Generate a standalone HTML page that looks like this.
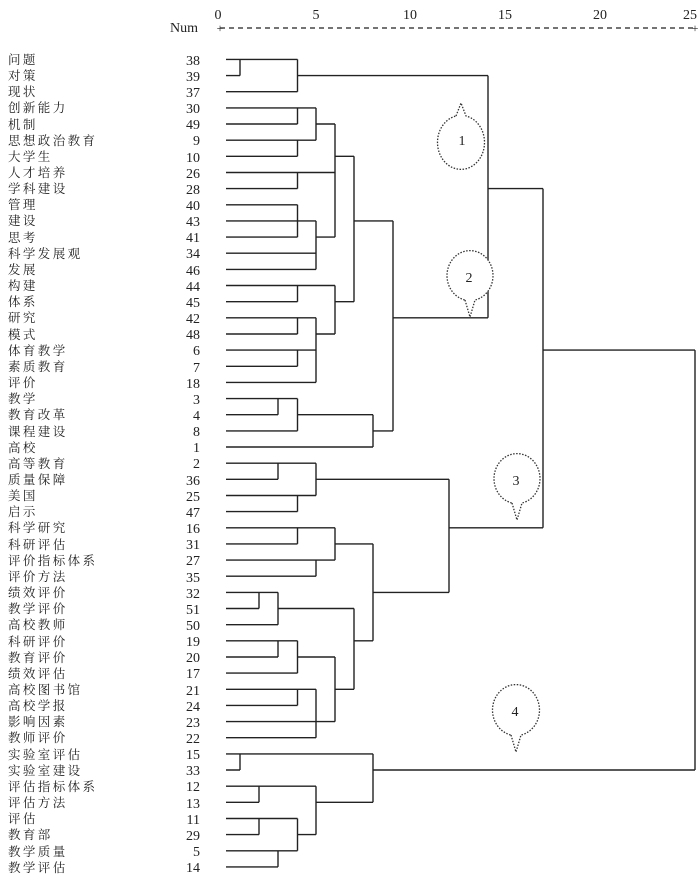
<!DOCTYPE html>
<html><head><meta charset="utf-8"><style>
html,body{margin:0;padding:0;background:#fff;}
svg{display:block;}
.lb{font-family:"Liberation Serif","Noto Serif CJK SC",serif;font-size:12.5px;letter-spacing:2.4px;fill:#222;}
.nm{font-family:"Liberation Serif",serif;font-size:14px;fill:#222;text-anchor:end;}
.ax{font-family:"Liberation Serif",serif;font-size:14px;fill:#222;text-anchor:middle;}
</style></head><body>
<svg width="700" height="877" viewBox="0 0 700 877" xmlns="http://www.w3.org/2000/svg">
<text x="218" y="19" class="ax">0</text>
<text x="316" y="19" class="ax">5</text>
<text x="410" y="19" class="ax">10</text>
<text x="505" y="19" class="ax">15</text>
<text x="600" y="19" class="ax">20</text>
<text x="690" y="19" class="ax">25</text>
<text x="198" y="32" class="nm">Num</text>
<line x1="220" y1="28" x2="695" y2="28" stroke="#222" stroke-width="1.2" stroke-dasharray="5,4"/>
<text x="220" y="32" class="ax" style="font-size:12px">+</text>
<text x="695" y="32" class="ax" style="font-size:12px">+</text>
<g id="labels">
<text x="8" y="64" class="lb">问题</text><text x="200" y="65" class="nm">38</text>
<text x="8" y="80" class="lb">对策</text><text x="200" y="81" class="nm">39</text>
<text x="8" y="96" class="lb">现状</text><text x="200" y="97" class="nm">37</text>
<text x="8" y="112" class="lb">创新能力</text><text x="200" y="113" class="nm">30</text>
<text x="8" y="129" class="lb">机制</text><text x="200" y="129" class="nm">49</text>
<text x="8" y="145" class="lb">思想政治教育</text><text x="200" y="145" class="nm">9</text>
<text x="8" y="161" class="lb">大学生</text><text x="200" y="162" class="nm">10</text>
<text x="8" y="177" class="lb">人才培养</text><text x="200" y="178" class="nm">26</text>
<text x="8" y="193" class="lb">学科建设</text><text x="200" y="194" class="nm">28</text>
<text x="8" y="209" class="lb">管理</text><text x="200" y="210" class="nm">40</text>
<text x="8" y="225" class="lb">建设</text><text x="200" y="226" class="nm">43</text>
<text x="8" y="242" class="lb">思考</text><text x="200" y="242" class="nm">41</text>
<text x="8" y="258" class="lb">科学发展观</text><text x="200" y="258" class="nm">34</text>
<text x="8" y="274" class="lb">发展</text><text x="200" y="275" class="nm">46</text>
<text x="8" y="290" class="lb">构建</text><text x="200" y="291" class="nm">44</text>
<text x="8" y="306" class="lb">体系</text><text x="200" y="307" class="nm">45</text>
<text x="8" y="322" class="lb">研究</text><text x="200" y="323" class="nm">42</text>
<text x="8" y="339" class="lb">模式</text><text x="200" y="339" class="nm">48</text>
<text x="8" y="355" class="lb">体育教学</text><text x="200" y="355" class="nm">6</text>
<text x="8" y="371" class="lb">素质教育</text><text x="200" y="372" class="nm">7</text>
<text x="8" y="387" class="lb">评价</text><text x="200" y="388" class="nm">18</text>
<text x="8" y="403" class="lb">教学</text><text x="200" y="404" class="nm">3</text>
<text x="8" y="419" class="lb">教育改革</text><text x="200" y="420" class="nm">4</text>
<text x="8" y="436" class="lb">课程建设</text><text x="200" y="436" class="nm">8</text>
<text x="8" y="452" class="lb">高校</text><text x="200" y="452" class="nm">1</text>
<text x="8" y="468" class="lb">高等教育</text><text x="200" y="468" class="nm">2</text>
<text x="8" y="484" class="lb">质量保障</text><text x="200" y="485" class="nm">36</text>
<text x="8" y="500" class="lb">美国</text><text x="200" y="501" class="nm">25</text>
<text x="8" y="516" class="lb">启示</text><text x="200" y="517" class="nm">47</text>
<text x="8" y="532" class="lb">科学研究</text><text x="200" y="533" class="nm">16</text>
<text x="8" y="549" class="lb">科研评估</text><text x="200" y="549" class="nm">31</text>
<text x="8" y="565" class="lb">评价指标体系</text><text x="200" y="565" class="nm">27</text>
<text x="8" y="581" class="lb">评价方法</text><text x="200" y="582" class="nm">35</text>
<text x="8" y="597" class="lb">绩效评价</text><text x="200" y="598" class="nm">32</text>
<text x="8" y="613" class="lb">教学评价</text><text x="200" y="614" class="nm">51</text>
<text x="8" y="629" class="lb">高校教师</text><text x="200" y="630" class="nm">50</text>
<text x="8" y="646" class="lb">科研评价</text><text x="200" y="646" class="nm">19</text>
<text x="8" y="662" class="lb">教育评价</text><text x="200" y="662" class="nm">20</text>
<text x="8" y="678" class="lb">绩效评估</text><text x="200" y="678" class="nm">17</text>
<text x="8" y="694" class="lb">高校图书馆</text><text x="200" y="695" class="nm">21</text>
<text x="8" y="710" class="lb">高校学报</text><text x="200" y="711" class="nm">24</text>
<text x="8" y="726" class="lb">影响因素</text><text x="200" y="727" class="nm">23</text>
<text x="8" y="742" class="lb">教师评价</text><text x="200" y="743" class="nm">22</text>
<text x="8" y="759" class="lb">实验室评估</text><text x="200" y="759" class="nm">15</text>
<text x="8" y="775" class="lb">实验室建设</text><text x="200" y="775" class="nm">33</text>
<text x="8" y="791" class="lb">评估指标体系</text><text x="200" y="791" class="nm">12</text>
<text x="8" y="807" class="lb">评估方法</text><text x="200" y="808" class="nm">13</text>
<text x="8" y="823" class="lb">评估</text><text x="200" y="824" class="nm">11</text>
<text x="8" y="839" class="lb">教育部</text><text x="200" y="840" class="nm">29</text>
<text x="8" y="856" class="lb">教学质量</text><text x="200" y="856" class="nm">5</text>
<text x="8" y="872" class="lb">教学评估</text><text x="200" y="872" class="nm">14</text>
</g>
<g stroke="#222" stroke-width="1.4" fill="none">
<!-- leaf horizontals -->
<path d="M226 59.4H297.5M226 75.6H240M226 91.7H297.5M226 107.9H316M226 124H297.5M226 140.2H316M226 156.3H297.5M226 172.5H335M226 188.6H297.5M226 204.8H297.5M226 220.9H316M226 237.1H297.5M226 253.2H316M226 269.4H316M226 285.5H335M226 301.7H297.5M226 317.8H316M226 334H297.5M226 350.1H316M226 366.3H297.5M226 382.4H316M226 398.6H297.5M226 414.7H278M226 430.9H297.5M226 447H373"/>
<path d="M226 463.2H316M226 479.3H278M226 495.5H316M226 511.6H297.5M226 527.8H335M226 543.9H297.5M226 560.1H335M226 576.2H316M226 592.4H278M226 608.5H259M226 624.7H278M226 640.8H297.5M226 657H278M226 673.1H297.5M226 689.3H316M226 705.4H297.5M226 721.6H335M226 737.7H316M226 753.9H373M226 770H240M226 786.2H316M226 802.3H259M226 818.5H297.5M226 834.6H259M226 850.8H297.5M226 866.9H278"/>
<!-- verticals -->
<path d="M240 59.4V75.6M297.5 59.4V91.7M297.5 107.9V124M297.5 140.2V156.3M316 107.9V140.2M297.5 172.5V188.6M297.5 204.8V237.1M316 220.9V269.4M335 124V237.1M354 156.3V301.7M297.5 285.5V301.7M297.5 317.8V334M297.5 350.1V366.3M316 317.8V382.4M335 285.5V334M278 398.6V414.7M297.5 398.6V430.9M373 414.7V447M393 220.9V430.9M488 75.6V317.8M543 188.6V527.8M695 350.1V770"/>
<path d="M278 463.2V479.3M316 463.2V495.5M297.5 495.5V511.6M449 479.3V592.4M297.5 527.8V543.9M316 560.1V576.2M335 527.8V560.1M373 543.9V640.8M259 592.4V608.5M278 592.4V624.7M354 608.5V689.3M278 640.8V657M297.5 640.8V673.1M335 657V721.6M297.5 689.3V705.4M316 689.3V737.7"/>
<path d="M240 753.9V770M373 753.9V802.3M259 786.2V802.3M316 786.2V834.6M259 818.5V834.6M297.5 818.5V850.8M278 850.8V866.9"/>
<!-- node horizontals -->
<path d="M297.5 75.6H488M316 124H335M335 156.3H354M316 237.1H335M354 220.9H393M335 301.7H354M316 334H335M297.5 414.7H373M373 430.9H393M393 317.8H488M488 188.6H543M543 350.1H695M316 479.3H449M373 592.4H449M449 527.8H543M335 543.9H373M278 608.5H354M354 640.8H373M297.5 657H335M335 689.3H354M373 770H695M316 802.3H373M297.5 834.6H316"/>
</g>
<g stroke="#333" stroke-width="1.3" fill="#fff" stroke-dasharray="1.5,1.5">
<path d="M456 116 L461 103 L466 116 A23.5 27 0 1 1 456 116 Z"/>
<path d="M465 300 L470 317 L475 300 A23 25 0 1 0 465 300 Z"/>
<path d="M512 503 L517 520 L522 503 A23 25 0 1 0 512 503 Z"/>
<path d="M511 735 L516 752 L521 735 A23.5 25.5 0 1 0 511 735 Z"/>
</g>
<g class="ax" style="font-size:14px">
<text x="462" y="145">1</text>
<text x="469" y="282">2</text>
<text x="516" y="485">3</text>
<text x="515" y="716">4</text>
</g>
</svg>
</body></html>
